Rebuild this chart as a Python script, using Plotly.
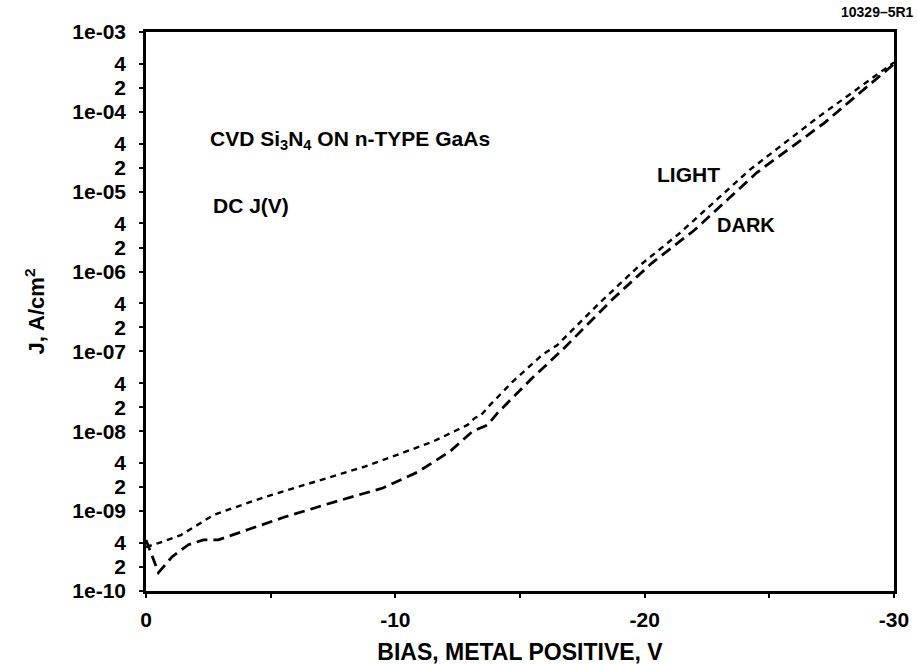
import plotly.graph_objects as go

# Bias (V, metal positive) and current density J (A/cm^2), stored as log10(J)
light_v = [0, -0.5, -1.4, -2.1, -2.7, -3.5, -4.8, -6.8, -8.8, -10.2, -11.5, -12.9,
           -13.2, -13.4, -13.8, -14.7, -15.9, -16.5, -18.1, -19.7, -21.4, -24.2, -26.9, -30]
light_logj = [-9.45, -9.40, -9.30, -9.17, -9.05, -8.96, -8.82, -8.63, -8.44, -8.28, -8.13, -7.92,
              -7.83, -7.81, -7.67, -7.38, -7.04, -6.92, -6.42, -5.95, -5.52, -4.73, -4.08, -3.38]

dark_v = [0, -0.5, -1.05, -1.7, -2.3, -2.9, -4.1, -5.5, -7.5, -9.5, -10.9, -12.2,
          -13.1, -13.7, -14.1, -15.5, -16.7, -18.7, -20.3, -22.0, -24.5, -27.2, -30]
dark_logj = [-9.36, -9.77, -9.57, -9.42, -9.36, -9.36, -9.23, -9.08, -8.89, -8.71, -8.51, -8.25,
             -8.00, -7.92, -7.77, -7.33, -6.98, -6.35, -5.89, -5.48, -4.76, -4.14, -3.40]

light_j = [10 ** v for v in light_logj]
dark_j = [10 ** v for v in dark_logj]

# Axis ticks
x_ticks = [0, -5, -10, -15, -20, -25, -30]
x_labels = ["0", "", "-10", "", "-20", "", "-30"]

y_ticks = []
y_labels = []
for e in range(-10, -2):
    y_ticks.append(10.0 ** e)
    y_labels.append("1e-%02d" % (-e))
    if e < -3:
        y_ticks += [2 * 10.0 ** e, 4 * 10.0 ** e]
        y_labels += ["2", "4"]

FONT = "Liberation Sans"


def bold(size):
    return dict(size=size, family=FONT, color="black", weight="bold")


fig = go.Figure()
fig.add_trace(go.Scatter(x=light_v, y=light_j, mode="lines", name="LIGHT",
                         line=dict(color="black", width=2.4, dash="6px,5px")))
fig.add_trace(go.Scatter(x=dark_v, y=dark_j, mode="lines", name="DARK",
                         line=dict(color="black", width=2.8, dash="11px,6px")))

fig.update_layout(
    width=918, height=665,
    margin=dict(l=146, r=24, t=32, b=74),
    paper_bgcolor="white", plot_bgcolor="white",
    showlegend=False,
    font=bold(20),
    annotations=[
        dict(x=-2.5, y=-4.35, xref="x", yref="y", xanchor="left", yanchor="middle",
             text="CVD Si<sub>3</sub>N<sub>4</sub> ON n-TYPE GaAs", showarrow=False,
             font=bold(21)),
        dict(x=-2.6, y=-5.17, xref="x", yref="y", xanchor="left", yanchor="middle",
             text="DC J(V)", showarrow=False, font=bold(21)),
        dict(x=-21.75, y=-4.79, xref="x", yref="y", xanchor="center", yanchor="middle",
             text="LIGHT", showarrow=False, font=bold(21)),
        dict(x=-24.05, y=-5.42, xref="x", yref="y", xanchor="center", yanchor="middle",
             text="DARK", showarrow=False, font=bold(20)),
        dict(x=1.029, y=1.036, xref="paper", yref="paper", xanchor="right", yanchor="middle",
             text="10329\u20135R1", showarrow=False, font=bold(14)),
    ],
)

fig.update_xaxes(
    range=[0, -30], tickvals=x_ticks, ticktext=x_labels,
    showgrid=False, zeroline=False, automargin=False,
    showline=True, linecolor="black", linewidth=2.5, mirror=True,
    ticks="outside", ticklen=4, tickwidth=2, tickcolor="black",
    tickfont=bold(21), ticklabelstandoff=4,
    title=dict(text="BIAS, METAL POSITIVE, V", standoff=14, font=bold(23)),
)
fig.update_yaxes(
    type="log", range=[-10, -3], tickvals=y_ticks, ticktext=y_labels,
    showgrid=False, zeroline=False, automargin=False,
    showline=True, linecolor="black", linewidth=2.5, mirror=True,
    ticks="outside", ticklen=4, tickwidth=2, tickcolor="black",
    tickfont=bold(21), ticklabelstandoff=9,
    title=dict(text="J, A/cm<sup>2</sup>", standoff=22, font=bold(22)),
)

fig.write_html("out.html")
